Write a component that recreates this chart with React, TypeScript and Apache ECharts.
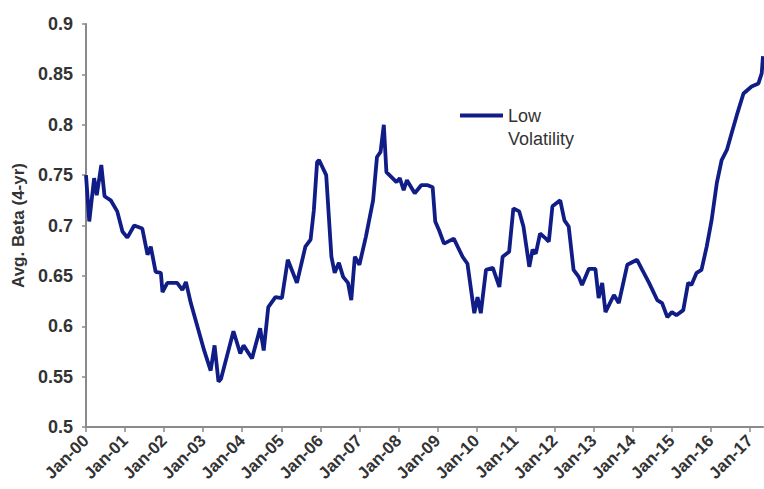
import React, { useEffect, useRef } from "react";
import * as echarts from "echarts";

// Month index since Jan-2000 (0 = Jan-00) and the average 4-yr beta
const months: number[] = [
  0, 1.0, 2.5, 3.3, 4.7, 5.7, 7.6, 9.6, 11.2, 12.7, 14.8, 17.3, 18.9, 19.9, 21.4, 23.0, 23.5, 25.0,
  28.0, 29.6, 30.7, 32.2, 36.3, 38.3, 39.5, 40.7, 41.5, 45.3, 47.4, 48.4, 51.0, 53.5, 54.6, 56.0,
  58.2, 60.2, 62.0, 64.8, 67.4, 69.0, 70.0, 71.0, 71.6, 73.8, 75.4, 76.4, 77.7, 79.0, 80.5, 81.5,
  82.6, 84.0, 86.0, 88.2, 89.4, 90.5, 91.5, 92.3, 95.4, 96.4, 97.6, 98.6, 101.0, 103.0, 105.0,
  106.5, 107.3, 108.5, 110.0, 113.0, 115.7, 117.2, 119.3, 120.3, 121.3, 122.9, 125.0, 127.0,
  128.0, 130.0, 131.3, 133.1, 134.4, 136.2, 137.2, 138.2, 139.5, 141.3, 142.2, 143.3, 145.7,
  147.0, 148.3, 149.8, 151.4, 152.4, 154.5, 156.5, 157.5, 158.6, 159.6, 162.2, 163.7, 166.3,
  169.3, 170.9, 173.0, 175.5, 177.0, 178.6, 180.0, 181.4, 183.5, 185.0, 186.0, 187.6, 189.1,
  190.7, 192.2, 193.8, 195.3, 196.9, 198.4, 200.0, 202.0, 204.5, 206.6, 207.6, 208.0,
];

const beta: number[] = [
  0.750, 0.704, 0.747, 0.730, 0.760, 0.729, 0.725, 0.714, 0.694, 0.688, 0.700, 0.697, 0.671, 0.679,
  0.654, 0.653, 0.634, 0.643, 0.643, 0.636, 0.644, 0.623, 0.576, 0.556, 0.581, 0.545, 0.548, 0.595,
  0.573, 0.581, 0.568, 0.598, 0.576, 0.619, 0.629, 0.628, 0.666, 0.643, 0.679, 0.686, 0.715, 0.763,
  0.765, 0.750, 0.669, 0.653, 0.663, 0.649, 0.643, 0.626, 0.669, 0.661, 0.689, 0.725, 0.768, 0.773,
  0.800, 0.753, 0.743, 0.747, 0.735, 0.745, 0.732, 0.740, 0.740, 0.738, 0.704, 0.695, 0.682, 0.687,
  0.669, 0.662, 0.613, 0.629, 0.613, 0.656, 0.658, 0.639, 0.669, 0.674, 0.717, 0.714, 0.699, 0.659,
  0.676, 0.672, 0.692, 0.687, 0.684, 0.719, 0.725, 0.705, 0.699, 0.656, 0.649, 0.641, 0.657, 0.657,
  0.628, 0.643, 0.614, 0.631, 0.623, 0.661, 0.666, 0.656, 0.643, 0.626, 0.623, 0.609, 0.614, 0.611,
  0.616, 0.643, 0.641, 0.653, 0.656, 0.679, 0.705, 0.742, 0.765, 0.775, 0.792, 0.810, 0.831, 0.838,
  0.841, 0.851, 0.868,
];

const tickLabels: string[] = [
  "Jan-00", "Jan-01", "Jan-02", "Jan-03", "Jan-04", "Jan-05", "Jan-06", "Jan-07", "Jan-08",
  "Jan-09", "Jan-10", "Jan-11", "Jan-12", "Jan-13", "Jan-14", "Jan-15", "Jan-16", "Jan-17",
];

const seriesName = "Low Volatility";

export default function App() {
  const ref = useRef<HTMLDivElement>(null);

  useEffect(() => {
    if (!ref.current) return;
    const chart = echarts.init(ref.current, undefined, { renderer: "svg" });
    const data = months.map((m, i) => [m, beta[i]]);
    const axisColor = "#8a8a8a";
    const font = "'Liberation Sans', Arial, sans-serif";
    chart.setOption({
      animation: false,
      backgroundColor: "#ffffff",
      grid: { left: 86, right: 1, top: 24, bottom: 62, containLabel: false },
      legend: {
        show: true,
        left: 460,
        top: 81,
        padding: 0,
        icon: "rect",
        itemWidth: 43,
        itemHeight: 4,
        itemGap: 5,
        selectedMode: false,
        data: [seriesName],
        formatter: () => "\nLow\nVolatility",
        textStyle: {
          fontFamily: font,
          fontSize: 18,
          color: "#333",
          lineHeight: 23,
        },
      },
      xAxis: {
        type: "value",
        min: 0,
        max: 208,
        interval: 12,
        axisLine: { show: true, onZero: false, lineStyle: { color: axisColor, width: 2 } },
        axisTick: { show: true, length: 5, lineStyle: { color: axisColor, width: 1.5 } },
        splitLine: { show: false },
        axisLabel: {
          rotate: 45,
          margin: 11,
          fontFamily: font,
          fontSize: 17,
          fontWeight: "bold",
          color: "#333",
          showMaxLabel: false,
          formatter: (v: number) => (v % 12 === 0 ? tickLabels[v / 12] ?? "" : ""),
        },
      },
      yAxis: {
        type: "value",
        min: 0.5,
        max: 0.9,
        interval: 0.05,
        name: "Avg. Beta (4-yr)",
        nameLocation: "middle",
        nameGap: 58,
        nameTextStyle: { fontFamily: font, fontSize: 17, fontWeight: "bold", color: "#333" },
        axisLine: { show: true, lineStyle: { color: axisColor, width: 2 } },
        axisTick: { show: true, length: 4, lineStyle: { color: axisColor, width: 1.5 } },
        splitLine: { show: false },
        axisLabel: {
          margin: 13,
          fontFamily: font,
          fontSize: 18,
          fontWeight: "bold",
          color: "#333",
          formatter: (v: number) => String(parseFloat(v.toFixed(2))),
        },
      },
      series: [
        {
          name: seriesName,
          type: "line",
          data,
          showSymbol: false,
          symbol: "none",
          lineStyle: { color: "#111d86", width: 3.8 },
          itemStyle: { color: "#111d86" },
          z: 3,
        },
      ],
    });
    return () => chart.dispose();
  }, []);

  return (
    <div
      ref={ref}
      style={{ position: "fixed", left: 0, top: 0, width: 764, height: 489, background: "#fff" }}
    />
  );
}
